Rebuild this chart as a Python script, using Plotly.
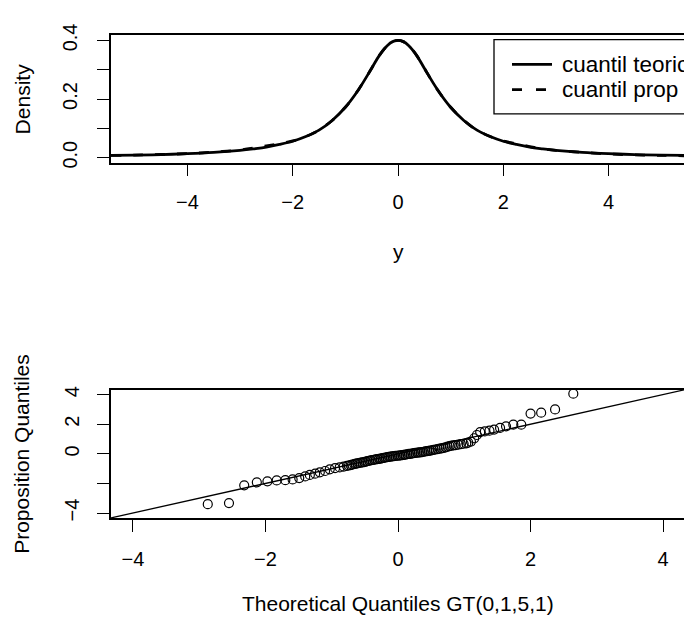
import plotly.graph_objects as go

# ---------------- data ----------------
# density curves
dens_x = [-5.45, -5.0, -4.5, -4.0, -3.5, -3.0, -2.75, -2.5, -2.25, -2.0, -1.75, -1.5, -1.25, -1.0,
          -0.75, -0.5, -0.35, -0.2, -0.1, 0.0, 0.1, 0.2, 0.35, 0.5, 0.75, 1.0, 1.25, 1.5, 1.75,
          2.0, 2.25, 2.5, 2.75, 3.0, 3.5, 4.0, 4.5, 5.0, 5.45]
dens_teo = [0.0075, 0.0085, 0.0105, 0.0135, 0.018, 0.025, 0.030, 0.036, 0.045, 0.056, 0.072, 0.094,
            0.127, 0.172, 0.232, 0.305, 0.350, 0.383, 0.396, 0.400, 0.396, 0.383, 0.350, 0.305,
            0.232, 0.172, 0.127, 0.094, 0.072, 0.056, 0.045, 0.036, 0.030, 0.025, 0.018, 0.0135,
            0.0105, 0.0085, 0.0075]
dens_prop = [0.0078, 0.0088, 0.0108, 0.0140, 0.019, 0.026, 0.033, 0.040, 0.048, 0.057, 0.072, 0.094,
             0.127, 0.172, 0.232, 0.305, 0.350, 0.383, 0.396, 0.400, 0.396, 0.383, 0.350, 0.305,
             0.232, 0.172, 0.127, 0.094, 0.072, 0.057, 0.047, 0.038, 0.030, 0.025, 0.018, 0.0130,
             0.0095, 0.0078, 0.0065]

# QQ points (theoretical, proposition)
qq_theo = [-2.87, -2.55, -2.32, -2.13, -1.97, -1.83, -1.70, -1.59, -1.49, -1.40, -1.33, -1.25,
           -1.18, -1.10, -1.03, -0.95, -0.88, -0.82,
           -0.77, -0.74, -0.715, -0.69, -0.66, -0.635, -0.61, -0.585, -0.56, -0.535, -0.51,
           -0.485, -0.46, -0.435, -0.41, -0.385, -0.36, -0.335, -0.31, -0.285, -0.26, -0.235,
           -0.21, -0.185, -0.16, -0.135, -0.11, -0.085, -0.06, -0.035, -0.01, 0.015, 0.04,
           0.065, 0.09, 0.115, 0.14, 0.165, 0.19, 0.215, 0.24, 0.265, 0.29, 0.315, 0.34, 0.365,
           0.39, 0.415, 0.44, 0.465, 0.49, 0.515, 0.54, 0.57, 0.60, 0.63, 0.66, 0.69, 0.72,
           0.75, 0.78, 0.81, 0.84, 0.87, 0.91, 0.95, 0.99, 1.03, 1.06,
           1.10, 1.15, 1.19, 1.24, 1.31, 1.38, 1.45, 1.54, 1.63, 1.74, 1.86, 2.00, 2.16, 2.37,
           2.645]
qq_prop = [-3.40, -3.33, -2.13, -1.93, -1.86, -1.80, -1.78, -1.73, -1.64, -1.53, -1.43, -1.34,
           -1.25, -1.16, -1.05, -0.97, -0.92, -0.86,
           -0.81, -0.79, -0.76, -0.73, -0.69, -0.67, -0.64, -0.62, -0.60, -0.58, -0.56,
           -0.53, -0.50, -0.47, -0.45, -0.42, -0.40, -0.38, -0.36, -0.34, -0.32, -0.29,
           -0.27, -0.25, -0.23, -0.21, -0.19, -0.17, -0.16, -0.14, -0.13, -0.12, -0.10,
           -0.09, -0.07, -0.05, -0.03, -0.01, 0.00, 0.02, 0.04, 0.06, 0.07, 0.09, 0.10, 0.12,
           0.14, 0.16, 0.18, 0.20, 0.22, 0.24, 0.27, 0.29, 0.32, 0.35, 0.37, 0.40, 0.44,
           0.48, 0.52, 0.55, 0.57, 0.58, 0.62, 0.65, 0.68, 0.71, 0.75,
           0.83, 1.05, 1.27, 1.47, 1.51, 1.56, 1.64, 1.75, 1.86, 1.97, 1.97, 2.72, 2.78, 3.00,
           4.06]
ref_line = [-5.0, 5.0]  # abline(0, 1)

top_xticks = [-4, -2, 0, 2, 4]
top_yticks = [0.0, 0.1, 0.2, 0.3, 0.4]
top_yticktext = ["0.0", "", "0.2", "", "0.4"]
bot_xticks = [-4, -2, 0, 2, 4]
bot_yticks = [-4, -2, 0, 2, 4]
bot_yticktext = ["\u22124", "", "0", "2", "4"]
legend_labels = ["cuantil teorico", "cuantil prop"]

FONT = "Liberation Sans, Arial, Helvetica, sans-serif"
FS_TICK = 20
FS_TITLE = 21
FS_LEG = 22.5
W, H = 684, 621
ML = 111

fig = go.Figure()
fig.add_trace(go.Scatter(x=dens_x, y=dens_teo, mode="lines", line=dict(color="black", width=2.8, shape="spline"),
                         xaxis="x", yaxis="y", showlegend=False))
fig.add_trace(go.Scatter(x=dens_x, y=dens_prop, mode="lines",
                         line=dict(color="black", width=2.8, dash="10px,12px", shape="spline"),
                         xaxis="x", yaxis="y", showlegend=False))
fig.add_trace(go.Scatter(x=qq_theo, y=qq_prop, mode="markers",
                         marker=dict(symbol="circle-open", size=9, color="black", line=dict(width=1.2, color="black")),
                         xaxis="x2", yaxis="y2", showlegend=False))
fig.add_trace(go.Scatter(x=ref_line, y=ref_line, mode="lines", line=dict(color="black", width=1.3),
                         xaxis="x2", yaxis="y2", showlegend=False))

def minus(v):
    return str(v).replace("-", "\u2212")

ax_common = dict(showgrid=False, zeroline=False, showline=True, linecolor="black", linewidth=1.6,
                 ticks="outside", ticklen=12, tickwidth=1.3, tickcolor="black",
                 tickfont=dict(family=FONT, size=FS_TICK, color="black"))

def px_to_paper_y(py):
    return 1 - py / H

def px_to_paper_x(px):
    return (px - ML) / (W - ML)

fig.update_layout(
    width=W, height=H, margin=dict(l=ML, r=0, t=0, b=0),
    plot_bgcolor="white", paper_bgcolor="white",
    font=dict(family=FONT, size=FS_TICK, color="black"),
    xaxis=dict(**ax_common, domain=[0, 1], anchor="y", range=[-5.45, 5.431], mirror=True,
               tickvals=top_xticks, ticktext=[minus(v) for v in top_xticks], ticklabelstandoff=9),
    yaxis=dict(**ax_common, domain=[px_to_paper_y(155), px_to_paper_y(24)], anchor="x",
               range=[-0.0165, 0.4175], tickvals=top_yticks, ticktext=top_yticktext,
               tickangle=-90, ticklabelstandoff=12),
    xaxis2=dict(**ax_common, domain=[0, 1], anchor="y2", range=[-4.33, 4.315], mirror=True,
                tickvals=bot_xticks, ticktext=[minus(v) for v in bot_xticks], ticklabelstandoff=10),
    yaxis2=dict(**ax_common, domain=[px_to_paper_y(521), px_to_paper_y(389)], anchor="x2",
                range=[-4.33, 4.33], tickvals=bot_yticks, ticktext=bot_yticktext,
                tickangle=-90, ticklabelstandoff=10),
)

annotations = [
    dict(text="Density", x=22, y=px_to_paper_y(90), textangle=-90),
    dict(text="y", x=398, y=px_to_paper_y(247), textangle=0),
    dict(text="Proposition Quantiles", x=22, y=px_to_paper_y(455), textangle=-90),
    dict(text="Theoretical Quantiles GT(0,1,5,1)", x=398, y=px_to_paper_y(609), textangle=0),
]
anns = []
for a in annotations:
    anns.append(dict(text=a["text"], x=px_to_paper_x(a["x"]), y=a["y"], xref="paper", yref="paper",
                     showarrow=False, textangle=a["textangle"], xanchor="center", yanchor="middle",
                     font=dict(family=FONT, size=FS_TITLE, color="black")))
# legend texts
for lbl, py in zip(legend_labels, [54, 80]):
    anns.append(dict(text=lbl, x=px_to_paper_x(560), y=px_to_paper_y(py), xref="paper", yref="paper",
                     showarrow=False, xanchor="left", yanchor="middle",
                     font=dict(family=FONT, size=FS_LEG, color="black")))

shapes = [
    dict(type="rect", xref="paper", yref="paper", x0=px_to_paper_x(494), x1=px_to_paper_x(760),
         y0=px_to_paper_y(105), y1=px_to_paper_y(28.5), line=dict(color="black", width=1.3),
         fillcolor="white", layer="above"),
    dict(type="line", xref="paper", yref="paper", x0=px_to_paper_x(512), x1=px_to_paper_x(552),
         y0=px_to_paper_y(54), y1=px_to_paper_y(54), line=dict(color="black", width=2.8)),
    dict(type="line", xref="paper", yref="paper", x0=px_to_paper_x(512), x1=px_to_paper_x(552),
         y0=px_to_paper_y(80), y1=px_to_paper_y(80), line=dict(color="black", width=2.8, dash="10px,14px")),
]
fig.update_layout(annotations=anns, shapes=shapes)

fig.write_html("out.html", config={"displayModeBar": False},
               post_script="document.body.style.margin='0';document.body.style.overflow='hidden';")
